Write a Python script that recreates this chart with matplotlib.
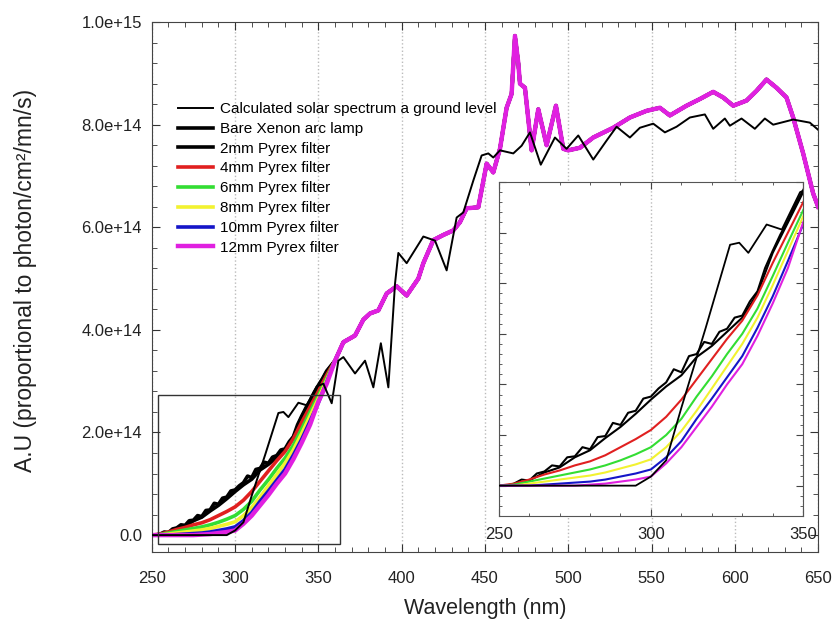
import numpy as np
import matplotlib.pyplot as plt
from matplotlib.ticker import MultipleLocator, FuncFormatter
from matplotlib.patches import Rectangle

plt.rcParams['font.family'] = ['Liberation Sans', 'DejaVu Sans']

# calculated solar spectrum at ground level
sol_nm = [250, 295, 300, 305, 310, 318, 326, 329, 332, 338, 343, 349, 353, 358,
          362, 365, 372, 378, 383, 387.5, 392, 396, 398, 403, 413, 420, 427, 433,
          437, 443, 448, 452, 455, 459, 467, 472, 477, 483.5, 492, 499, 506, 515,
          523, 529, 537, 543, 551, 558, 565, 573, 582, 587, 594, 597, 604, 612,
          618, 623, 635, 645, 650]
sol = [0, 0, 0.9e13, 2.5e13, 7.7e13, 1.56e14, 2.38e14, 2.4e14, 2.3e14, 2.58e14,
       2.53e14, 2.9e14, 2.95e14, 2.57e14, 3.4e14, 3.47e14, 3.15e14, 3.4e14,
       2.88e14, 3.74e14, 2.88e14, 4.9e14, 5.5e14, 5.3e14, 5.82e14, 5.74e14,
       5.16e14, 6.19e14, 6.29e14, 6.91e14, 7.4e14, 7.44e14, 7.36e14, 7.5e14,
       7.44e14, 7.59e14, 7.85e14, 7.22e14, 7.75e14, 7.53e14, 7.79e14, 7.32e14,
       7.69e14, 7.96e14, 7.75e14, 7.94e14, 8.02e14, 7.85e14, 7.96e14, 8.14e14,
       8.2e14, 7.92e14, 8.12e14, 7.98e14, 8.12e14, 7.92e14, 8.12e14, 8.0e14,
       8.1e14, 8.04e14, 7.9e14]

# bare xenon lamp, UV part
xe_nm = [250, 252.5, 255, 257.5, 260, 262.5, 265, 267.5, 270, 272.5, 275, 277.5,
         280, 282.5, 285, 287.5, 290, 292.5, 295, 297.5, 300, 302.5, 305, 307.5,
         310, 312.5, 315, 317.5, 320, 322.5, 325, 327.5, 330, 332.5, 335, 337.5,
         340, 342.5, 345, 347.5, 350, 352.5, 355, 357.5]
xe = [0, 0, 0.2e13, 0.6e13, 0.5e13, 1.2e13, 1.4e13, 2.0e13, 1.9e13, 2.8e13,
      2.9e13, 3.8e13, 3.6e13, 4.8e13, 4.9e13, 6.2e13, 6.0e13, 7.2e13, 7.4e13,
      8.6e13, 8.8e13, 9.6e13, 1.02e14, 1.15e14, 1.12e14, 1.28e14, 1.30e14,
      1.42e14, 1.40e14, 1.52e14, 1.55e14, 1.66e14, 1.68e14, 1.82e14, 1.92e14,
      2.15e14, 2.32e14, 2.48e14, 2.62e14, 2.78e14, 2.92e14, 3.05e14, 3.2e14,
      3.3e14]

# filtered lamp, UV part
filt_nm = [250, 255, 260, 265, 270, 275, 280, 285, 290, 295, 300, 305, 310, 315,
           320, 325, 330, 335, 340, 345, 350, 355]
p2 = [0, 0.1e13, 0.5e13, 1.3e13, 1.8e13, 2.8e13, 3.5e13, 4.7e13, 5.8e13, 7.1e13,
      8.5e13, 9.8e13, 1.09e14, 1.27e14, 1.38e14, 1.52e14, 1.66e14, 1.9e14,
      2.3e14, 2.6e14, 2.9e14, 3.18e14]
p4 = [0, 0.2e13, 0.6e13, 1.1e13, 1.5e13, 2.0e13, 2.4e13, 3.0e13, 3.8e13, 4.6e13,
      5.5e13, 6.8e13, 8.5e13, 1.05e14, 1.25e14, 1.45e14, 1.63e14, 1.88e14,
      2.2e14, 2.5e14, 2.8e14, 3.12e14]
p6 = [0, 0.1e13, 0.4e13, 0.7e13, 1.0e13, 1.3e13, 1.6e13, 2.0e13, 2.5e13, 3.1e13,
      3.8e13, 5.0e13, 6.6e13, 8.8e13, 1.08e14, 1.3e14, 1.5e14, 1.75e14, 2.07e14,
      2.4e14, 2.72e14, 3.06e14]
p8 = [0, 0, 0.2e13, 0.4e13, 0.6e13, 0.8e13, 1.0e13, 1.3e13, 1.7e13, 2.1e13,
      2.6e13, 3.8e13, 5.4e13, 7.4e13, 9.6e13, 1.18e14, 1.4e14, 1.66e14, 1.98e14,
      2.32e14, 2.66e14, 3.02e14]
p10 = [0, 0, 0, 0.1e13, 0.2e13, 0.3e13, 0.4e13, 0.6e13, 0.9e13, 1.2e13, 1.6e13,
       2.8e13, 4.4e13, 6.6e13, 8.6e13, 1.07e14, 1.28e14, 1.56e14, 1.87e14,
       2.22e14, 2.58e14, 2.98e14]
p12 = [0, 0, 0, 0, 0, 0, 0.1e13, 0.2e13, 0.4e13, 0.6e13, 0.9e13, 2.2e13, 3.8e13,
       5.8e13, 7.8e13, 1.0e14, 1.2e14, 1.48e14, 1.8e14, 2.15e14, 2.6e14, 2.95e14]

# lamp spectrum above 360 nm (all filters coincide here)
vis_nm = [360, 365, 372, 377, 381, 386, 391, 397, 403, 410, 413, 419, 425, 431,
          435, 439, 446, 451, 455, 459, 463, 466, 468, 470, 471, 474, 478, 482,
          487, 492.6, 497, 500, 507, 515, 527, 537, 547, 555, 561, 571, 579, 587,
          593, 599, 607, 613, 619, 625, 631, 635, 641, 647, 650]
vis = [3.4e14, 3.76e14, 3.89e14, 4.2e14, 4.32e14, 4.38e14, 4.71e14, 4.85e14,
       4.67e14, 5.0e14, 5.3e14, 5.75e14, 5.85e14, 5.94e14, 6.1e14, 6.37e14,
       6.39e14, 7.24e14, 7.07e14, 7.53e14, 8.33e14, 8.6e14, 9.73e14, 9.2e14,
       8.8e14, 8.72e14, 7.5e14, 8.3e14, 7.6e14, 8.37e14, 7.53e14, 7.5e14,
       7.55e14, 7.75e14, 7.94e14, 8.14e14, 8.27e14, 8.33e14, 8.18e14, 8.37e14,
       8.5e14, 8.64e14, 8.53e14, 8.37e14, 8.47e14, 8.66e14, 8.88e14, 8.72e14,
       8.53e14, 8.14e14, 7.44e14, 6.66e14, 6.4e14]

labels = ["2mm Pyrex filter", "4mm Pyrex filter", "6mm Pyrex filter",
          "8mm Pyrex filter", "10mm Pyrex filter", "12mm Pyrex filter"]
colors = ["black", "#e02020", "#33dd33", "#f2f230", "#1515c8", "#e020e0"]
filters = [p2, p4, p6, p8, p10, p12]


def draw(ax, thick):
    lw_sol = 1.4 if thick else 1.3
    lw = 2.6 if thick else 1.5
    handles = []
    h, = ax.plot(sol_nm, sol, color="black", lw=lw_sol, zorder=5,
                 label="Calculated solar spectrum a ground level")
    handles.append(h)
    h, = ax.plot(xe_nm + vis_nm, xe + vis, color="black", lw=lw,
                 label="Bare Xenon arc lamp")
    handles.append(h)
    for vals, c, lab in zip(filters, colors, labels):
        w = lw + 0.6 if c == "#e020e0" and thick else lw
        h, = ax.plot(filt_nm + vis_nm, vals + vis, color=c, lw=w, label=lab)
        handles.append(h)
    return handles


def ytick(v, pos):
    if v == 0:
        return "0.0"
    return f"{v:.1e}"


fig = plt.figure(figsize=(8.34, 6.22), dpi=100)
ax = fig.add_axes([0.182, 0.1125, 0.799, 0.852])
handles = draw(ax, True)
ax.set_xlim(250, 650)
ax.set_ylim(-3.3e13, 1.0e15)
ax.xaxis.set_major_locator(MultipleLocator(50))
ax.xaxis.set_minor_locator(MultipleLocator(10))
ax.yaxis.set_major_locator(MultipleLocator(2e14))
ax.yaxis.set_minor_locator(MultipleLocator(4e13))
ax.yaxis.set_major_formatter(FuncFormatter(ytick))
ax.tick_params(which="both", direction="in", top=True, right=True,
               labelsize=12, colors="#333333", labelcolor="#222222")
ax.tick_params(which="major", length=6)
ax.tick_params(axis="x", which="major", pad=14)
ax.tick_params(axis="y", which="major", pad=7)
ax.tick_params(which="minor", length=3.5)
ax.grid(axis="x", which="major", ls=":", color="#bbbbbb", lw=1)
for s in ax.spines.values():
    s.set_color("#444444")
ax.set_xlabel("Wavelength (nm)", fontsize=15.5, labelpad=8, color="#222222")
ax.set_ylabel("A.U (proportional to photon/cm²/mn/s)", fontsize=16.5,
              color="#222222")
ax.yaxis.set_label_coords(-0.172, 0.513)

ax.add_patch(Rectangle((254, -1.8e13), 109, 2.91e14, fill=False,
                       ec="#333333", lw=1, zorder=6))

leg = ax.legend(handles=handles, loc="upper left",
                bbox_to_anchor=(0.018, 0.875), frameon=False, fontsize=11,
                handlelength=2.3, labelspacing=0.38, handletextpad=0.5)

ins = fig.add_axes([0.598, 0.1704, 0.365, 0.537])
draw(ins, False)
ins.set_xlim(250, 350)
ins.set_ylim(-3e13, 3e14)
ins.xaxis.set_major_locator(MultipleLocator(50))
ins.xaxis.set_minor_locator(MultipleLocator(10))
ins.yaxis.set_major_locator(MultipleLocator(5e13))
ins.yaxis.set_minor_locator(MultipleLocator(1e13))
ins.set_yticklabels([])
ins.tick_params(which="both", direction="in", top=True, right=True,
                labelsize=12, colors="#444444", labelcolor="#222222")
ins.tick_params(which="major", length=5, pad=8)
ins.tick_params(which="minor", length=2.5)
ins.grid(axis="x", which="major", ls=":", color="#bbbbbb", lw=1)
for s in ins.spines.values():
    s.set_color("#555555")

fig.savefig("out.png", dpi=100)
